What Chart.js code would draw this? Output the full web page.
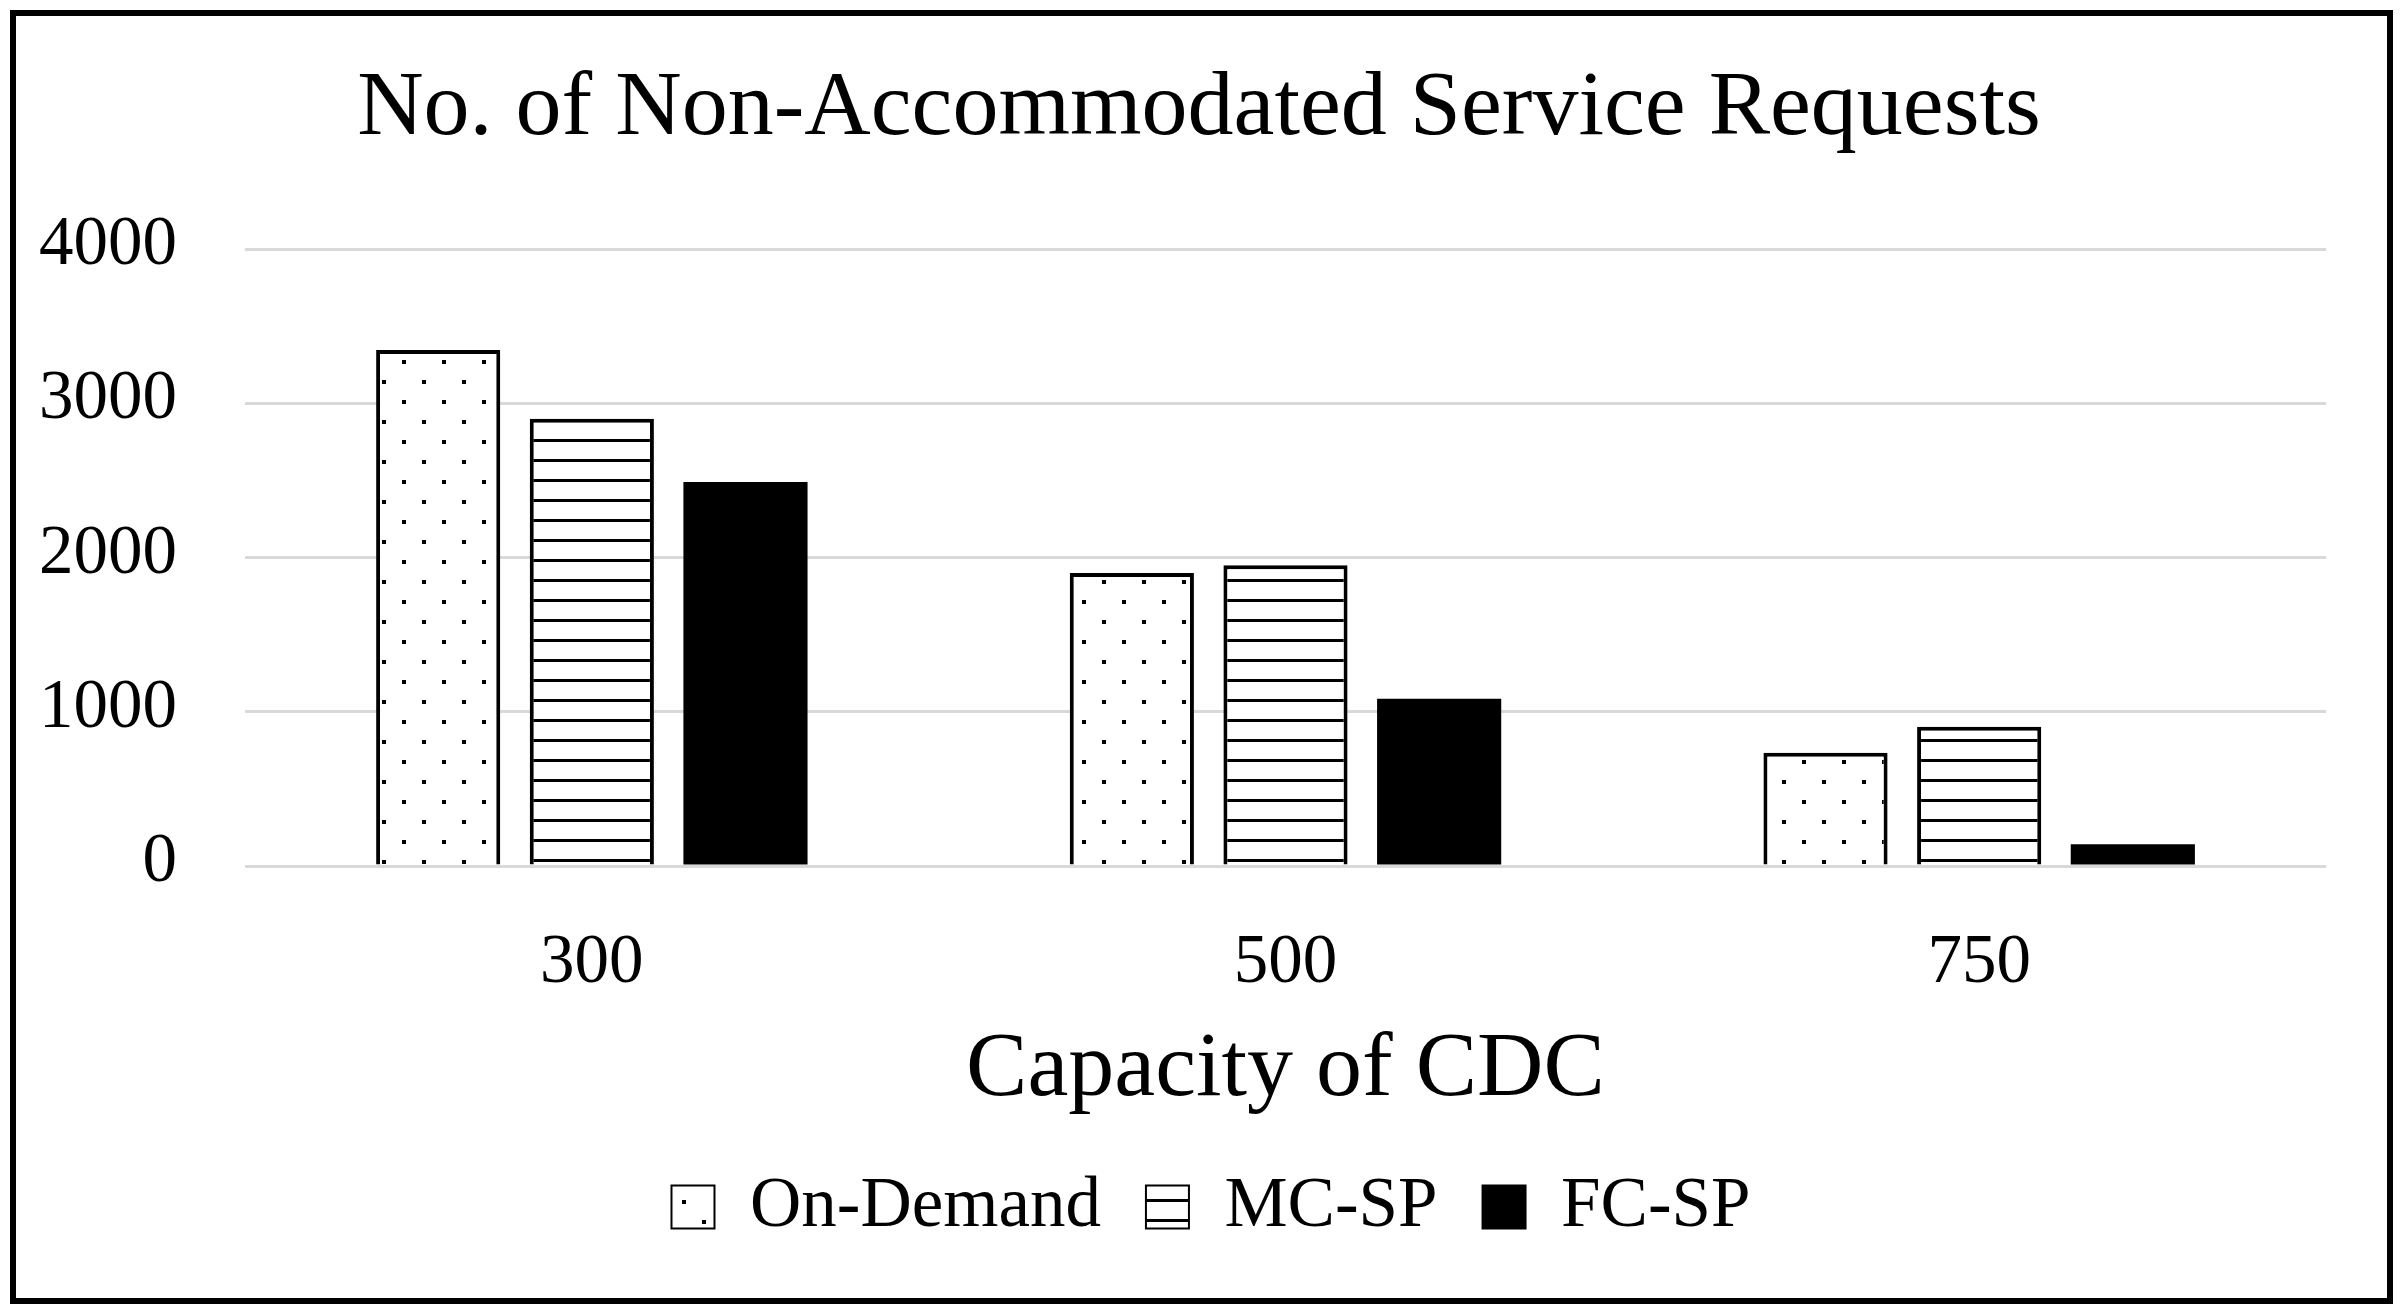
<!DOCTYPE html>
<html>
<head>
<meta charset="utf-8">
<script src="https://cdn.jsdelivr.net/npm/chart.js@4.4.0/dist/chart.umd.min.js"></script>
<style>
  html, body { margin: 0; padding: 0; background: #fff; overflow: hidden; }
  #wrap { width: 2402px; height: 1313px; position: relative; }
</style>
</head>
<body>
<div id="wrap"><canvas id="chart"></canvas></div>
<script>
// Data
const capacities = ['300', '500', '750'];
const onDemand = [3345, 1900, 735];
const mcSp = [2900, 1950, 902];
const fcSp = [2490, 1085, 141];
const yTicks = [0, 1000, 2000, 3000, 4000];

const serif = "'Liberation Serif', 'Times New Roman', serif";

// Fill patterns: dotted (On-Demand) and horizontal stripes (MC-SP)
function dotPattern() {
    const c = document.createElement('canvas');
    c.width = 40; c.height = 40;
    const g = c.getContext('2d');
    g.fillStyle = '#fff'; g.fillRect(0, 0, 40, 40);
    g.fillStyle = '#000';
    g.fillRect(2, 0, 4, 4);
    g.fillRect(22, 20, 4, 4);
    return g.createPattern(c, 'repeat');
}
function stripePattern() {
    const c = document.createElement('canvas');
    c.width = 20; c.height = 20;
    const g = c.getContext('2d');
    g.fillStyle = '#fff'; g.fillRect(0, 0, 20, 20);
    g.fillStyle = '#000';
    g.fillRect(0, 0, 20, 2);
    g.fillRect(0, 19, 20, 1);
    return g.createPattern(c, 'repeat');
}

// outer black frame around the whole figure
const framePlugin = {
    id: 'frame',
    afterDraw(chart) {
        const ctx = chart.ctx;
        ctx.save();
        ctx.strokeStyle = '#000';
        ctx.lineWidth = 6;
        ctx.strokeRect(13, 13, chart.width - 25, chart.height - 25);
        ctx.restore();
    }
};

// title and legend sit a bit right of the canvas centre in the original
const nudgePlugin = {
    id: 'nudge',
    afterLayout(chart) {
        if (chart.titleBlock) { chart.titleBlock.left += 21; chart.titleBlock.right += 21; }
        if (chart.legend) { chart.legend.left += 33; chart.legend.right += 33; }
    }
};

const ctx = document.getElementById('chart').getContext('2d');
new Chart(ctx, {
    type: 'bar',
    data: {
        labels: capacities,
        datasets: [
            {
                label: 'On-Demand',
                data: onDemand,
                backgroundColor: dotPattern(),
                borderColor: '#000',
                borderWidth: 4
            },
            {
                label: 'MC-SP',
                data: mcSp,
                backgroundColor: stripePattern(),
                borderColor: '#000',
                borderWidth: 4
            },
            {
                label: 'FC-SP',
                data: fcSp,
                backgroundColor: '#000',
                borderColor: '#000',
                borderWidth: 0
            }
        ]
    },
    options: {
        responsive: true,
        maintainAspectRatio: false,
        devicePixelRatio: 1,
        animation: false,
        categoryPercentage: 0.6645,
        barPercentage: 0.808,
        layout: { padding: { top: 23, left: 30, right: 76, bottom: 60.5 } },
        scales: {
            x: {
                grid: { display: false, drawTicks: false },
                border: { display: false },
                ticks: { color: '#000', padding: 63, font: { family: serif, size: 69, lineHeight: 1 } },
                title: {
                    display: true,
                    text: 'Capacity of CDC',
                    color: '#000',
                    font: { family: serif, size: 92, lineHeight: 1 },
                    padding: { top: -36, bottom: 9.5 }
                }
            },
            y: {
                min: 0,
                max: 4000,
                afterBuildTicks: axis => { axis.ticks = yTicks.map(v => ({ value: v })); },
                afterFit: axis => { axis.width = 215; },
                grid: { color: '#d9d9d9', lineWidth: 3, drawTicks: false },
                border: { display: false },
                ticks: {
                    color: '#000',
                    padding: 68,
                    labelOffset: -3,
                    font: { family: serif, size: 69, lineHeight: 1 },
                    callback: v => String(v)
                }
            }
        },
        plugins: {
            title: {
                display: true,
                text: 'No. of Non-Accommodated Service Requests',
                color: '#000',
                font: { family: serif, size: 92, weight: 'normal', lineHeight: 1 },
                padding: { top: 41, bottom: 93 }
            },
            legend: {
                position: 'bottom',
                labels: {
                    color: '#000',
                    font: { family: serif, size: 71 },
                    boxWidth: 43,
                    boxHeight: 43,
                    padding: 45,
                    generateLabels(chart) {
                        const items = Chart.defaults.plugins.legend.labels.generateLabels(chart);
                        items.forEach(it => { it.lineWidth = 2; it.strokeStyle = '#000'; });
                        return items;
                    }
                }
            },
            tooltip: { enabled: false }
        }
    },
    plugins: [framePlugin, nudgePlugin]
});
</script>
</body>
</html>
